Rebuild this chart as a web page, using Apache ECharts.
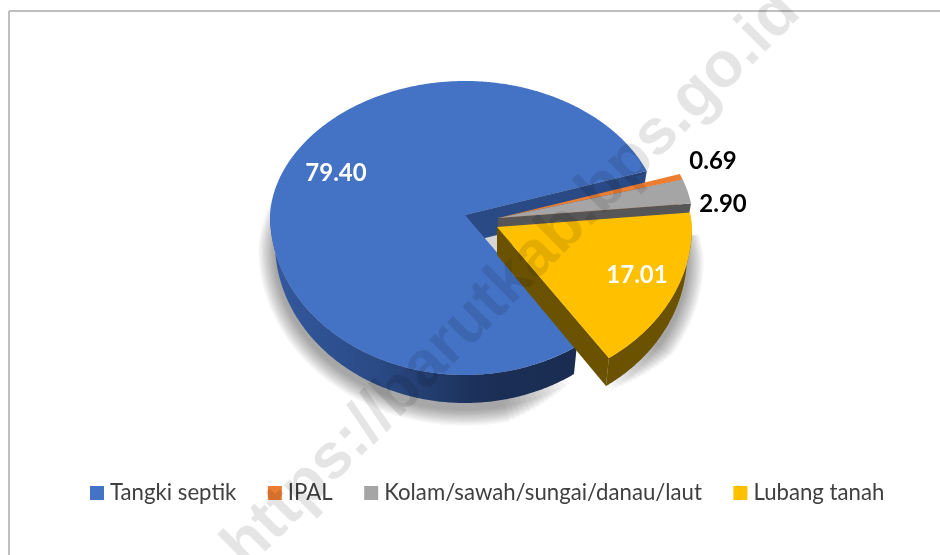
<!DOCTYPE html>
<html>
<head>
<meta charset="utf-8">
<style>html,body{margin:0;padding:0;background:#fff}#c{width:940px;height:555px}</style>
<script src="https://cdn.jsdelivr.net/npm/echarts@6/dist/echarts.min.js"></script>
</head>
<body>
<div id="c"></div>
<script>
const categories = ['Tangki septik', 'IPAL', 'Kolam/sawah/sungai/danau/laut', 'Lubang tanah'];
const values = [79.40, 0.69, 2.90, 17.01];
const faceColors = ['#4472c4', '#ed7d31', '#a5a5a5', '#ffc000'];
const wallColors = ['#294a84', '#9e5320', '#565656', '#6b5200'];
const labelColors = ['#ffffff', '#000000', '#000000', '#ffffff'];
const watermark = 'https://barutkab.bps.go.id';

// layout of the tilted pie (not data)
const G = { cx: 465, cy: 215, rx: 195, ryUp: 134, ryDown: 160, rxBase: 190, depth: 28, startAngle: 55, upNarrow: 0.04 };
const explode = [[0, 0], [33, 3], [33, 3], [32, 12]];
const labelOffset = [[-129, -42], [248, -54], [258, -11], [172, 60]];
const SHADOW = { layers: 14, step: 1.2, drop: 6, alpha: 0.028, taper: 1.6 };

const total = values.reduce((a, b) => a + b, 0);
const spans = [];
values.reduce((acc, v) => { const e = acc + v / total * 360; spans.push([acc, e]); return e; }, G.startAngle);

function rim(deg, i, base, grow) {
  const t = deg * Math.PI / 180, s = Math.sin(t), c = Math.cos(t), g = grow || 0;
  const rx = (base ? G.rxBase : G.rx) * (s < 0 ? 1 + G.upNarrow * s : 1) + g;
  return [
    G.cx + explode[i][0] + rx * c,
    G.cy + explode[i][1] + ((s > 0 ? G.ryDown : G.ryUp) + g) * s + (base ? G.depth : 0)
  ];
}
function arc(a, b, i, base, grow) {
  const pts = [], n = Math.max(2, Math.ceil(Math.abs(b - a) * 2));
  for (let k = 0; k <= n; k++) pts.push(rim(a + (b - a) * k / n, i, base, grow));
  return pts;
}
function apex(i, base) {
  return [G.cx + explode[i][0], G.cy + explode[i][1] + (base ? G.depth : 0)];
}
function sliceChildren(i, value) {
  const span = value / total * 360, s = spans[i][0], e = s + span;
  const kids = [];
  kids.push({ type: 'polygon', shape: { points: [apex(i), rim(e, i), rim(e, i, true), apex(i, true)] },
    style: { fill: wallColors[i] } });
  [[0, 180], [360, 540]].forEach(w => {
    const a = Math.max(s, w[0]), b = Math.min(e, w[1]);
    if (b > a) {
      const fill = i === 0
        ? new echarts.graphic.LinearGradient(0, 0, 1, 0, [
            { offset: 0, color: '#34599f' }, { offset: 0.35, color: '#2a4a85' },
            { offset: 0.7, color: '#1b2f57' }, { offset: 1, color: '#1a2c50' }])
        : wallColors[i];
      kids.push({ type: 'polygon', shape: { points: arc(a, b, i).concat(arc(b, a, i, true)) }, style: { fill } });
    }
  });
  kids.push({ type: 'polygon', shape: { points: [apex(i)].concat(arc(s, e, i)) }, style: { fill: faceColors[i] } });
  kids.push({ type: 'text', style: {
    text: value.toFixed(2), x: G.cx + labelOffset[i][0], y: G.cy + labelOffset[i][1],
    fill: labelColors[i], font: 'bold 24px Lato', textAlign: 'center', textVerticalAlign: 'middle' } });
  return kids;
}

// soft ground shadow: stacked translucent outlines of the slices' base, tapering towards the gap
const shadowSeries = {
  type: 'custom', name: 'shadow', coordinateSystem: 'none', silent: true, z: 1,
  data: values.map(v => [v]),
  renderItem(params) {
    const i = params.dataIndex, kids = [];
    if (i !== 0 && i !== 3) return { type: 'group', children: [] };
    for (let k = SHADOW.layers; k >= 1; k--) {
      const a = i === 0 ? spans[i][0] + k * SHADOW.taper : spans[i][0] - 4;
      const b = i === 0 ? spans[i][1] : spans[i][1] - k * SHADOW.taper;
      const pts = arc(a, b, i, true, k * SHADOW.step).map(p => [p[0], p[1] + SHADOW.drop]);
      kids.push({ type: 'polygon', shape: { points: [apex(i, true)].concat(pts) },
        style: { fill: 'rgba(0,0,0,' + SHADOW.alpha + ')' } });
    }
    if (i === 3) {
      kids.push({ type: 'polygon', shape: { points: [apex(0), apex(3), apex(3, true)] }, style: { fill: '#d6d6d6' } });
    }
    return { type: 'group', children: kids };
  }
};
const sliceSeries = categories.map((name, i) => ({
  type: 'custom', name, coordinateSystem: 'none', silent: true, z: 2 + i,
  itemStyle: { color: faceColors[i] },
  data: [[values[i]]],
  renderItem(params, api) {
    return { type: 'group', children: sliceChildren(i, api.value(0)) };
  }
}));

const chart = echarts.init(document.getElementById('c'), null, { renderer: 'canvas' });
chart.setOption({
  animation: false,
  backgroundColor: '#ffffff',
  legend: {
    data: categories, left: 90, top: 482, padding: 0, itemGap: 31.5, itemWidth: 14, itemHeight: 14,
    icon: 'rect', selectedMode: false,
    textStyle: { fontFamily: 'Lato', fontSize: 22.2, color: '#404040', padding: [0, 0, 0, 1] }
  },
  series: [shadowSeries].concat(sliceSeries),
  graphic: [
    { type: 'line', z: 50, silent: true, shape: { x1: 9, y1: 11, x2: 940, y2: 11 }, style: { stroke: '#bfbfbf', lineWidth: 2 } },
    { type: 'line', z: 50, silent: true, shape: { x1: 9, y1: 11, x2: 9, y2: 555 }, style: { stroke: '#bfbfbf', lineWidth: 2 } },
    { type: 'text', z: 100, silent: true, x: 512, y: 280, rotation: Math.PI / 4,
      style: { text: watermark, font: 'bold 64px "Liberation Sans"', fill: 'rgba(0,0,0,0.1)', textAlign: 'center', textVerticalAlign: 'middle' } }
  ]
});
</script>
</body>
</html>
